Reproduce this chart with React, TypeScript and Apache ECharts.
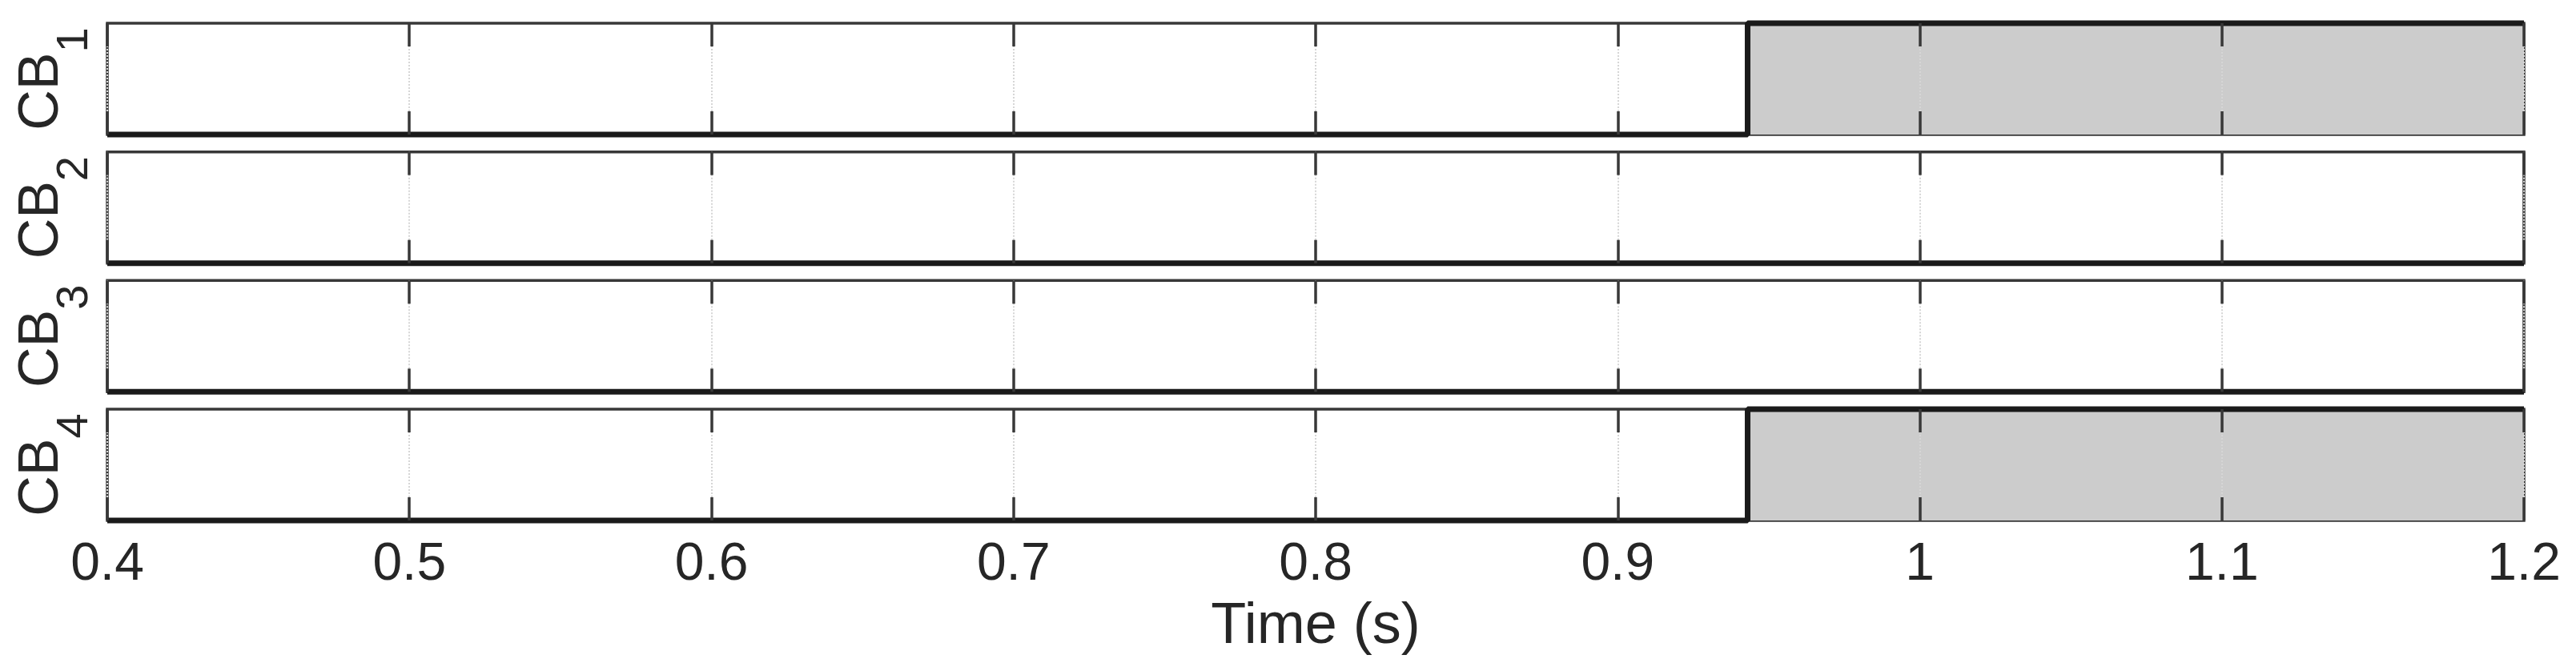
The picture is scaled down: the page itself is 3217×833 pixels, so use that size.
import React, { useEffect, useRef } from "react";
import * as echarts from "echarts";

// ---- data ----
const timeS = [0.4, 0.943, 0.943, 1.2];
const cb1 = [0, 0, 1, 1];
const cb2 = [0, 0, 0, 0];
const cb3 = [0, 0, 0, 0];
const cb4 = [0, 0, 1, 1];
const breakerNames = ["CB", "CB", "CB", "CB"];
const breakerSubs = ["1", "2", "3", "4"];
const breakerStates = [cb1, cb2, cb3, cb4];
const xMin = 0.4;
const xMax = 1.2;
const xStep = 0.1;
const xTitle = "Time (s)";

const FONT = "'Liberation Sans', Arial, Helvetica, sans-serif";
const AX = "#383838";
const TXT = "#262626";

export default function App() {
  const ref = useRef<HTMLDivElement>(null);
  useEffect(() => {
    if (!ref.current) return;
    const chart = echarts.init(ref.current, null, { renderer: "svg" });
    const n = breakerStates.length;
    const left = 134;
    const right = 3217 - 3152;
    const top0 = 29;
    const pitch = 160.67;
    const h = 139;

    const grids: any[] = [];
    const xAxes: any[] = [];
    const yAxes: any[] = [];
    const series: any[] = [];

    for (let i = 0; i < n; i++) {
      grids.push({
        left,
        right,
        top: top0 + i * pitch,
        height: h,
        show: true,
        borderColor: AX,
        borderWidth: 3.5,
        backgroundColor: "transparent",
        containLabel: false,
      });
      const isLast = i === n - 1;
      // bottom axis
      xAxes.push({
        type: "value",
        gridIndex: i,
        position: "bottom",
        min: xMin,
        max: xMax,
        interval: xStep,
        axisLine: { show: false },
        axisTick: { show: true, inside: true, length: 29, lineStyle: { color: AX, width: 3.5 } },
        splitLine: { show: true, lineStyle: { color: "#d6d6d6", width: 2, type: "dotted" } },
        axisLabel: {
          show: isLast,
          fontSize: 66,
          fontFamily: FONT,
          color: TXT,
          margin: 18,
          showMinLabel: true,
          showMaxLabel: true,
          hideOverlap: false,
        },
        name: isLast ? xTitle : "",
        nameLocation: "middle",
        nameGap: 92,
        nameTextStyle: { fontSize: 72, fontFamily: FONT, color: TXT },
        z: 5,
      });
      // top axis (ticks only)
      xAxes.push({
        type: "value",
        gridIndex: i,
        position: "top",
        min: xMin,
        max: xMax,
        interval: xStep,
        axisLine: { show: false },
        axisTick: { show: true, inside: true, length: 29, lineStyle: { color: AX, width: 3.5 } },
        splitLine: { show: false },
        axisLabel: { show: false },
        z: 5,
      });
      yAxes.push({
        type: "value",
        gridIndex: i,
        min: 0,
        max: 1,
        axisLine: { show: false },
        axisTick: { show: false },
        axisLabel: { show: false },
        splitLine: { show: false },
        name: `{m|${breakerNames[i]}}{s|${breakerSubs[i]}}`,
        nameLocation: "middle",
        nameRotate: 90,
        nameGap: 121,
        nameTextStyle: {
          verticalAlign: "top",
          color: TXT,
          fontFamily: FONT,
          rich: {
            m: { fontSize: 70, lineHeight: 70, verticalAlign: "top", fontFamily: FONT, color: TXT },
            s: { fontSize: 56, lineHeight: 152, verticalAlign: "middle", fontFamily: FONT, color: TXT },
          },
        },
      });
      series.push({
        type: "line",
        xAxisIndex: 2 * i,
        yAxisIndex: i,
        data: timeS.map((t, k) => [t, breakerStates[i][k]]),
        symbol: "none",
        clip: false,
        lineStyle: { color: "#1a1a1a", width: 7 },
        areaStyle: { color: "#cccccc", opacity: 1 },
        z: 3,
      });
    }

    chart.setOption({
      animation: false,
      backgroundColor: "#ffffff",
      grid: grids,
      xAxis: xAxes,
      yAxis: yAxes,
      series,
    });
    return () => chart.dispose();
  }, []);
  return (
    <div
      ref={ref}
      style={{ position: "fixed", left: 0, top: 0, width: "3217px", height: "833px", background: "#fff" }}
    />
  );
}
